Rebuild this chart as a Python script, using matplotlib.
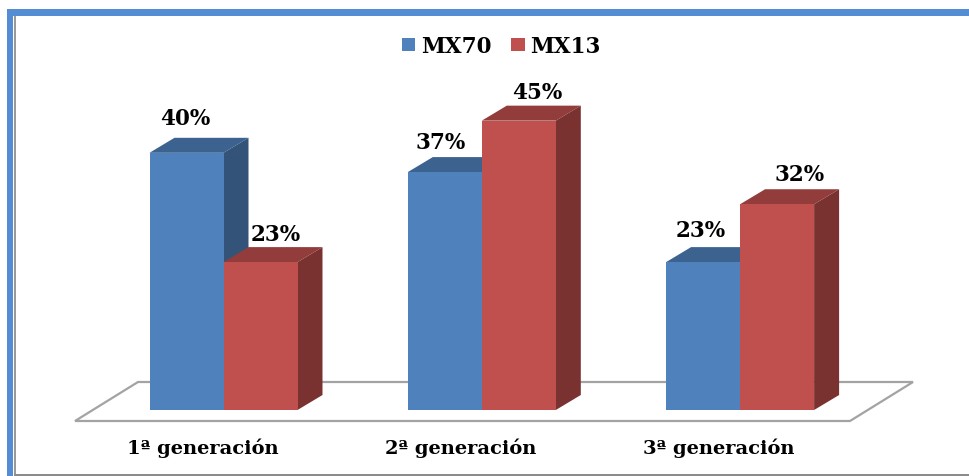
import matplotlib
matplotlib.use("Agg")
import matplotlib.pyplot as plt
from matplotlib.patches import Polygon, Patch, Rectangle

categories = ["1ª generación", "2ª generación", "3ª generación"]
mx70 = [40, 37, 23]
mx13 = [23, 45, 32]
series_names = ["MX70", "MX13"]

W, H = 969, 477
BASE_Y = 411
GROUP_X = 223.5
X_UNIT = 258.3
Y_UNIT = 6.43
BAR_W = 74 / X_UNIT
DX = 25 / X_UNIT
DY = 15 / Y_UNIT

BLUE = ("#4f81bd", "#3c6290", "#335378")
RED = ("#c0504d", "#923d3b", "#7a3230")
GRID = "#a3a3a3"

# label offsets in pixels from the top centre of each bar
OFF_70 = [(-1, 35), (-4, 30), (-2, 32)]
OFF_13 = [(15, 28), (18, 29), (22, 30)]

plt.rcParams["font.family"] = ["DejaVu Serif"]
plt.rcParams["font.weight"] = "bold"

fig = plt.figure(figsize=(W / 100, H / 100), dpi=100, facecolor="white")
ax = fig.add_axes([0, 0, 1, 1])
ax.set_xlim(-GROUP_X / X_UNIT, (W - GROUP_X) / X_UNIT)
ax.set_ylim(-(H - BASE_Y) / Y_UNIT, BASE_Y / Y_UNIT)
ax.axis("off")


def box(px0, py0, pw, ph, color, z=0):
    # outer frame pieces, given in figure pixels from the top left
    fig.add_artist(Rectangle((px0 / W, 1 - (py0 + ph) / H), pw / W, ph / H,
                             transform=fig.transFigure, fc=color, ec="none", zorder=z))


box(7, 10, 962, 7, "#548dd4")
box(7, 10, 6, 467, "#548dd4")
box(14, 17, 2, 460, "#9a9a9a")
box(14, 475, 955, 2, "#8c8c8c")

# floor of the 3D plot
fx = lambda p: (p - GROUP_X) / X_UNIT
fy = lambda p: (BASE_Y - p) / Y_UNIT
floor = Polygon([(fx(75), fy(422)), (fx(138), fy(383)), (fx(913), fy(383)), (fx(850), fy(422))],
                closed=True, fc="white", ec=GRID, lw=1.6, zorder=1)
ax.add_patch(floor)


def bar3d(x, value, cols, zorder):
    ax.bar(x, value, BAR_W, align="edge", color=cols[0], zorder=zorder + 0.2, linewidth=0)
    r = x + BAR_W
    ax.add_patch(Polygon([(x, value), (x + DX, value + DY), (r + DX, value + DY), (r, value)],
                         fc=cols[1], ec="none", zorder=zorder))
    ax.add_patch(Polygon([(r, 0), (r + DX, DY), (r + DX, value + DY), (r, value)],
                         fc=cols[2], ec="none", zorder=zorder))


for i, cat in enumerate(categories):
    bar3d(i - BAR_W, mx70[i], BLUE, 2 + i)
    bar3d(i, mx13[i], RED, 2.5 + i)
    for x0, val, off in ((i - BAR_W / 2, mx70[i], OFF_70[i]), (i + BAR_W / 2, mx13[i], OFF_13[i])):
        ax.annotate(f"{val}%", (x0, val), xytext=(off[0] * 0.72, off[1] * 0.72),
                    textcoords="offset points", ha="center", va="center",
                    fontsize=15.5, color="black", zorder=10)
    ax.text(i - 21 / X_UNIT, fy(448), cat, ha="center", va="center",
            fontsize=14, color="black", zorder=10)

handles = [Patch(fc=BLUE[0]), Patch(fc=RED[0])]
ax.legend(handles, series_names, loc="center", bbox_to_anchor=(501 / W, 1 - 47 / H),
          ncol=2, frameon=False, fontsize=15.5, handlelength=0.65, handleheight=0.55,
          handletextpad=0.25, columnspacing=0.9, borderpad=0)

fig.savefig("out.png", dpi=100)
